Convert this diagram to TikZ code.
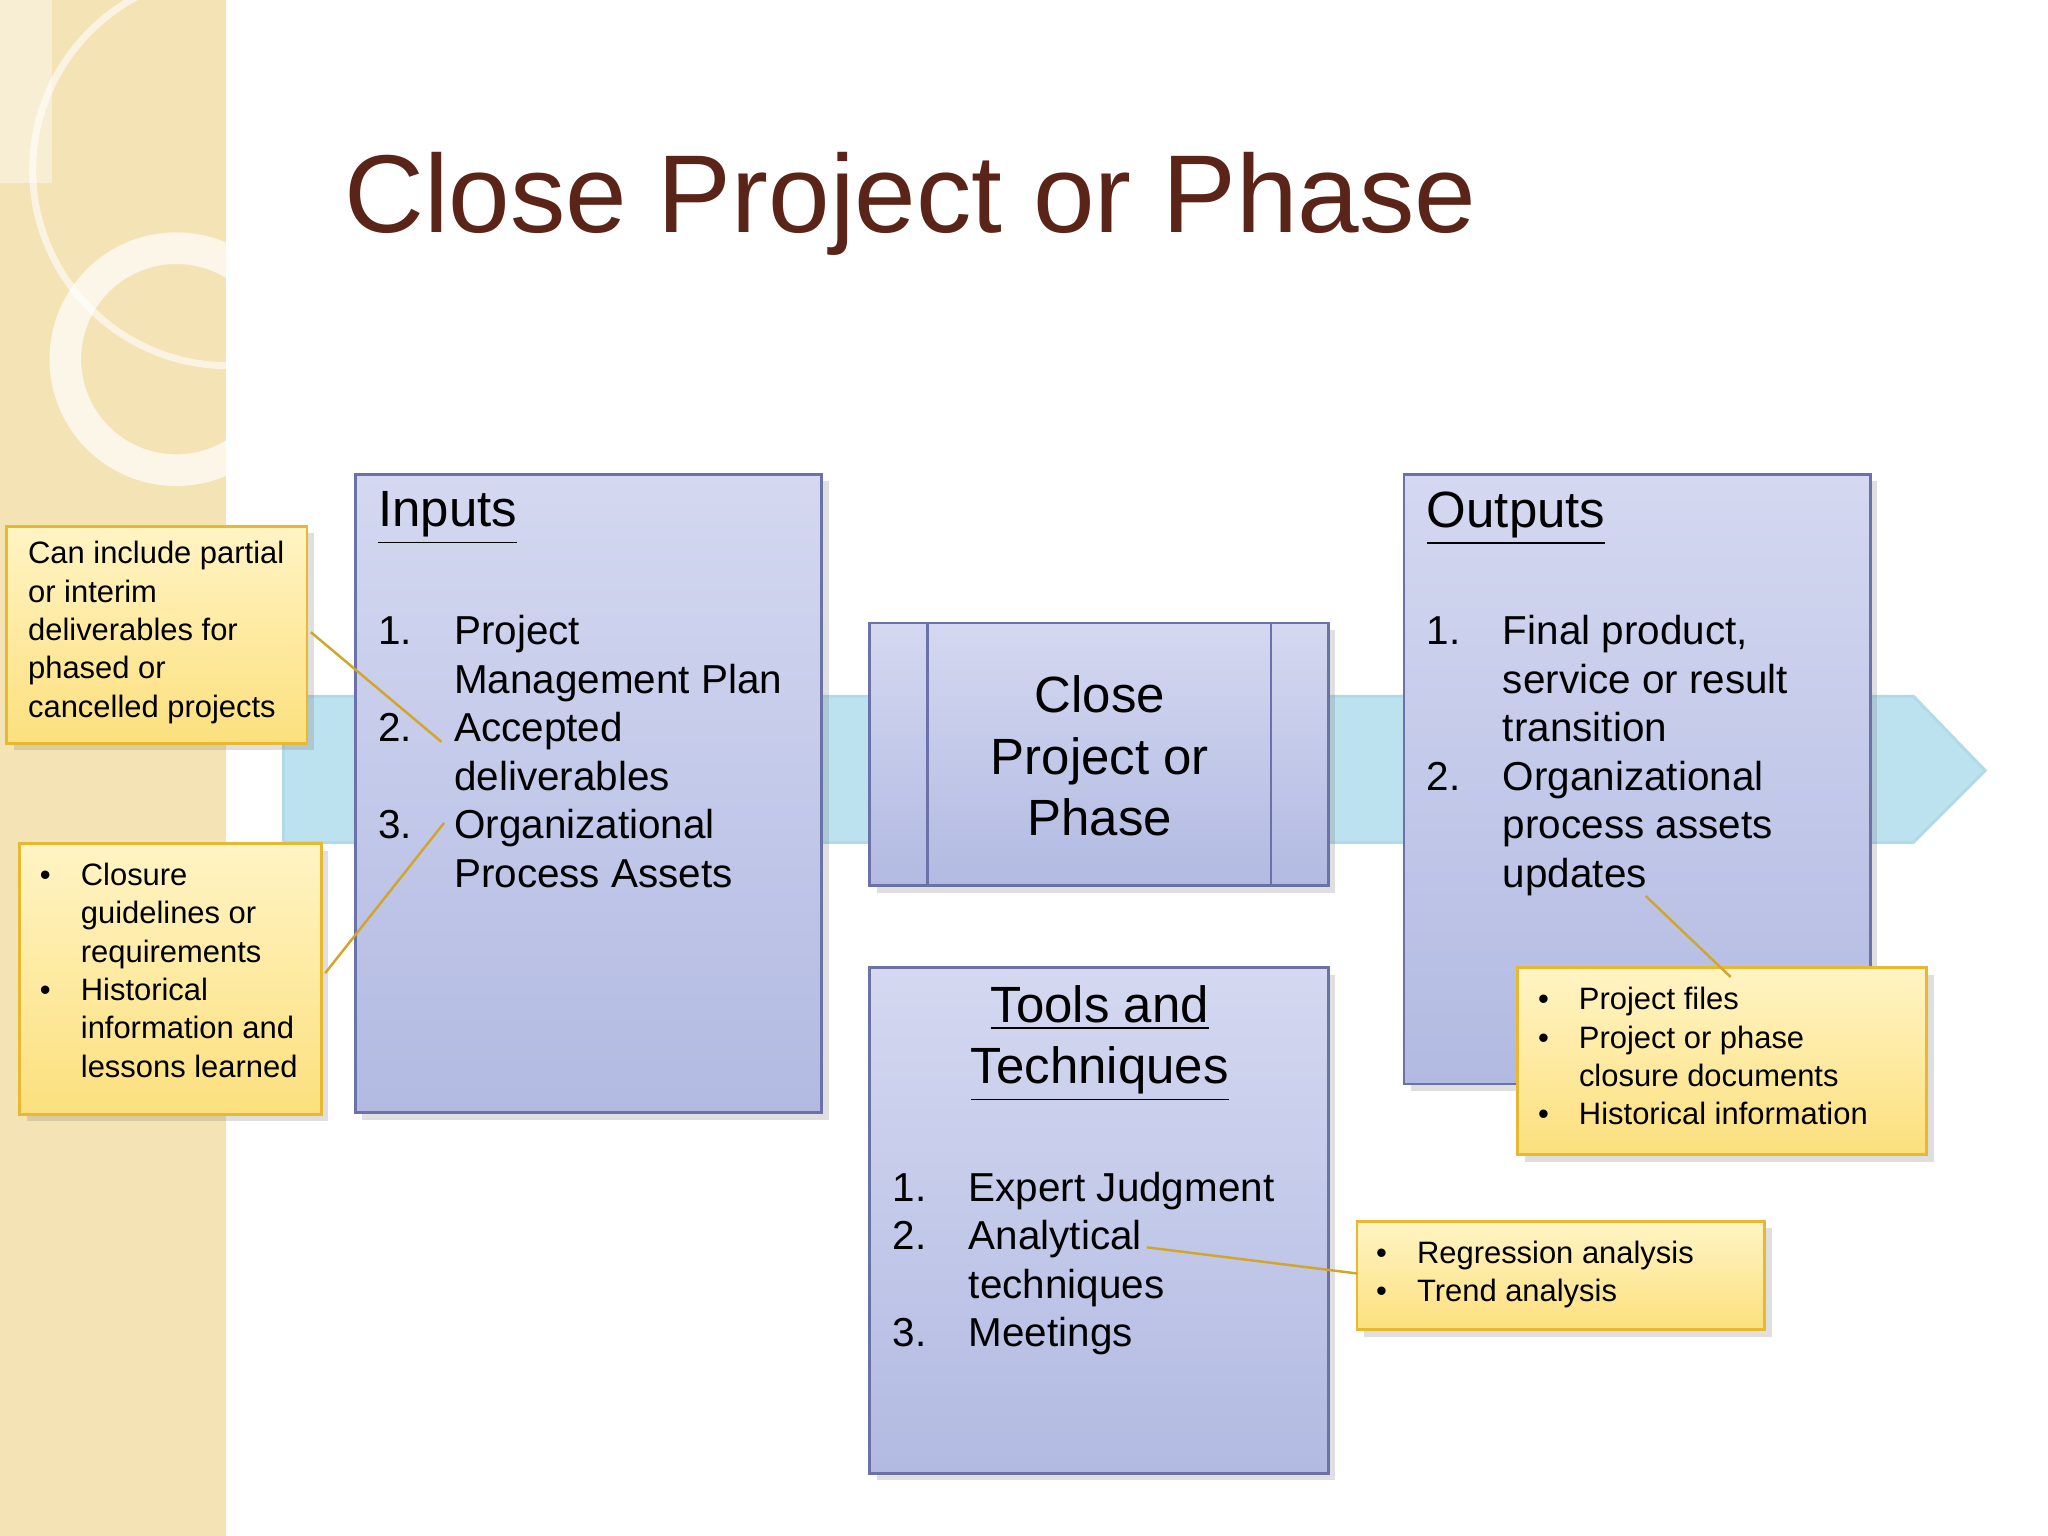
\documentclass[tikz,border=0pt]{standalone}
\usepackage{fontspec}
\usepackage{array}
\setmainfont{Liberation Sans}
\usetikzlibrary{shadows}
\definecolor{beige}{HTML}{F3E3B5}
\definecolor{titlec}{HTML}{5A2418}
\definecolor{bandc}{HTML}{BCE2F0}
\definecolor{banded}{HTML}{7FB8CF}
\definecolor{boxd}{HTML}{6A72A8}
\definecolor{ylwd}{HTML}{E8B830}
\definecolor{boxtop}{HTML}{D4D8F0}
\definecolor{boxbot}{HTML}{B2BAE2}
\definecolor{ytop}{HTML}{FFF4C4}
\definecolor{ybot}{HTML}{FCE07E}
\tikzset{
 pbox/.style={draw=boxd,line width=0.8pt,top color=boxtop,bottom color=boxbot,drop shadow={opacity=0.25,shadow xshift=2pt,shadow yshift=-2pt}},
 callout/.style={draw=ylwd,line width=0.8pt,top color=ytop,bottom color=ybot,drop shadow={opacity=0.25,shadow xshift=2pt,shadow yshift=-2pt}},
 link/.style={draw=ylwd!90!black,line width=0.7pt},
 body/.style={font=\fontsize{11.5}{13.8}\selectfont,anchor=north west,inner sep=0pt,align=left},
 small/.style={font=\fontsize{8.8}{10.9}\selectfont,anchor=north west,inner sep=0pt,align=left},
}
\newcommand\nl[3]{\begin{tabular}{@{}p{#1}@{}>{\raggedright\arraybackslash}p{#2}@{}}#3\end{tabular}}
\begin{document}
\begin{tikzpicture}[x=0.01306cm,y=-0.01306cm]
\useasboundingbox (0,0) rectangle (1568,1176);
\fill[white] (0,0) rectangle (1568,1176);
% left strip
\fill[beige] (0,0) rectangle (173,1176);
\begin{scope}
\clip (0,0) rectangle (173,1176);
\fill[beige!60!white] (0,0) rectangle (40,140);
\draw[white,opacity=0.6,line width=2pt] (175,130) circle (150);
\draw[white,opacity=0.7,line width=9pt] (135,275) circle (85);
\end{scope}
% title
\node[anchor=base west,text=titlec,font=\fontsize{31.5}{36}\selectfont,inner sep=0pt] (title) at (263,178) {Close Project or Phase};
% band arrow
\draw[bandc!80!banded,fill=bandc,line width=0.8pt] (217,533) -- (1465,533) -- (1520,590) -- (1465,645) -- (217,645) -- cycle;
% boxes
\draw[pbox] (272,363) rectangle (629,852);
\coordinate (inpW) at (272,600);
\draw[pbox] (666,477) rectangle (1017,678);
\draw[boxd,line width=0.7pt] (710,477) -- (710,678) (973,477) -- (973,678);
\draw[pbox] (666,741) rectangle (1017,1128);
\draw[pbox] (1075,363) rectangle (1432,830);
% texts in boxes
\node[body,font=\fontsize{14.5}{17}\selectfont] (ih) at (289,376) {\underline{Inputs}};
\node[body] (it) at (289,467) {\nl{0.76cm}{3.6cm}{1.&Project Management Plan\\2.&Accepted deliverables\\3.&Organizational Process Assets}};
\node[align=center,font=\fontsize{14.5}{17.5}\selectfont,inner sep=0pt] (mt) at (842,579) {Close\\Project or\\Phase};
\node[align=center,font=\fontsize{14.5}{17.5}\selectfont,inner sep=0pt,anchor=north] (th) at (842,754) {\underline{Tools and}\\\underline{Techniques}};
\node[body] (tt) at (683,893) {\nl{0.76cm}{3.6cm}{1.&Expert Judgment\\2.&Analytical techniques\\3.&Meetings}};
\node[body,font=\fontsize{14.5}{17}\selectfont] (oh) at (1092,376) {\underline{Outputs}};
\node[body] (ot) at (1092,467) {\nl{0.76cm}{3.1cm}{1.&Final product, service or result transition\\2.&Organizational process assets updates}};
% callouts
\draw[callout] (5,403) rectangle (235,569);
\node[small] (c1t) at (21,414) {Can include partial\\or interim\\deliverables for\\phased or\\cancelled projects};
\draw[callout] (15,646) rectangle (246,853);
\node[small] (c2t) at (30,657) {\nl{0.41cm}{2.3cm}{•&Closure guidelines or requirements\\•&Historical information and lessons learned}};
\draw[callout] (1162,741) rectangle (1475,884);
\node[small] (c3t) at (1177,752) {\nl{0.41cm}{3.0cm}{•&Project files\\•&Project or phase closure documents\\•&Historical information}};
\draw[callout] (1039,935) rectangle (1351,1018);
\node[small] (c4t) at (1053,946) {\nl{0.41cm}{3.4cm}{•&Regression analysis\\•&Trend analysis}};
% links
\coordinate (a1) at (238,484); \coordinate (l1) at (338,568);
\coordinate (a2) at (249,745); \coordinate (l2) at (340,630);
\coordinate (l3) at (1260,686); \coordinate (a3) at (1325,748);
\coordinate (l4) at (878,955); \coordinate (a4) at (1039,975);
\draw[link] (a1) -- (l1);
\draw[link] (a2) -- (l2);
\draw[link] (l3) -- (a3);
\draw[link] (l4) -- (a4);
\end{tikzpicture}
\end{document}
